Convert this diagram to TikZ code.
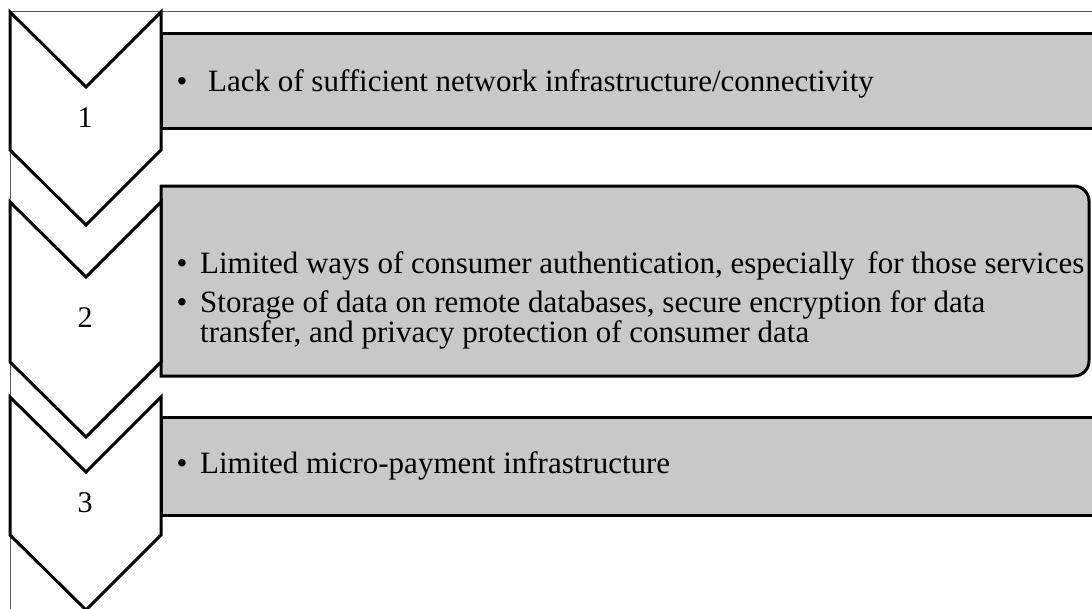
\documentclass[tikz,border=0pt]{standalone}
\usepackage{fontspec}
\setmainfont{Liberation Serif}
\definecolor{boxgray}{RGB}{200,200,200}
\definecolor{framegray}{RGB}{90,90,90}
\tikzset{
  chevron/.style={draw, line width=3pt, fill=white},
  barbox/.style={draw, line width=3pt, fill=boxgray},
  num/.style={inner sep=0pt, font=\fontsize{30}{34}\selectfont},
  item/.style={anchor=base west, inner sep=0pt, font=\fontsize{31}{34}\selectfont},
}
\newcommand{\bul}{\makebox[23.5pt][l]{\textbullet}}

\begin{document}
\begin{tikzpicture}[x=1pt, y=-1pt]
  \useasboundingbox (0,0) rectangle (1092,608);
  \clip (0,0) rectangle (1092,608);
  \draw[framegray, line width=1pt] (10,610) -- (10,11) -- (1095,11);
  \draw[barbox] (161,33) rectangle (1110,128);
  \draw[barbox] (161,186) [rounded corners=15pt] -- (1089,186) -- (1089,376) [sharp corners] -- (161,376) -- cycle;
  \draw[barbox] (161,417) rectangle (1110,515);
  \draw[chevron] (10,12) -- (86,87) -- (161,12) -- (161,150) -- (86,225) -- (10,150) -- cycle;
  \draw[chevron] (10,202) -- (86,277) -- (161,202) -- (161,362) -- (86,437) -- (10,362) -- cycle;
  \draw[chevron] (10,397) -- (86,472) -- (161,397) -- (161,535) -- (86,610) -- (10,535) -- cycle;
  \node[num] (n1) at (85,118) {1};
  \node[num] (n2) at (85,318) {2};
  \node[num] (n3) at (85,503) {3};
  \node[item] (t1) at (176.5,91) {\makebox[31.5pt][l]{\textbullet}Lack of sufficient network infrastructure/connectivity};
  \node[item] (t2a) at (176.5,273) {\bul Limited ways of consumer authentication, especially\, for those services};
  \node[item] (t2b) at (176.5,312) {\bul Storage of data on remote databases, secure encryption for data};
  \node[item] (t2c) at (200,342) {transfer, and privacy protection of consumer data};
  \node[item] (t3) at (176.5,473) {\bul Limited micro-payment infrastructure};
\end{tikzpicture}
\end{document}
